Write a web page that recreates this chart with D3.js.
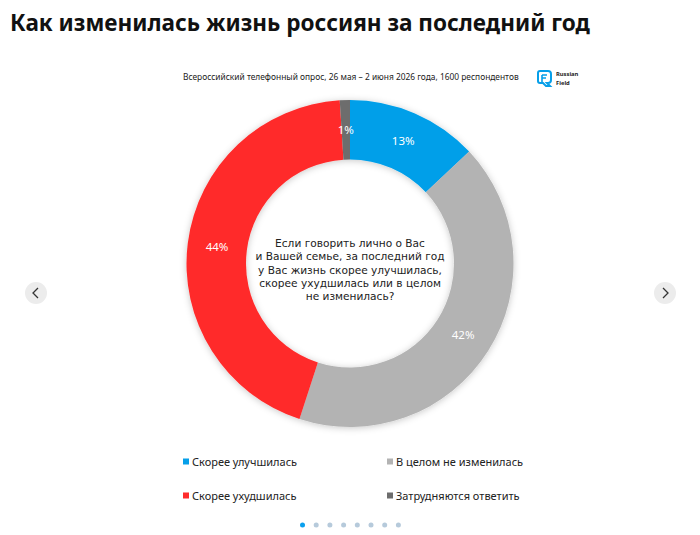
<!DOCTYPE html>
<html>
<head>
<meta charset="utf-8">
<script src="https://cdn.jsdelivr.net/npm/d3@7"></script>
<style>
  body { margin: 0; background: #fff; font-family: "Noto Sans", "Open Sans", sans-serif; }
  svg text { font-family: "Noto Sans", "Open Sans", sans-serif; }
  svg text.q { font-family: "DejaVu Sans", sans-serif; }
</style>
</head>
<body>
<div id="chart"></div>
<script>
// chart data
const title = "Как изменилась жизнь россиян за последний год";
const subtitle = "Всероссийский телефонный опрос, 26 мая – 2 июня 2026 года, 1600 респондентов";
const question = ["Если говорить лично о Вас", "и Вашей семье, за последний год", "у Вас жизнь скорее улучшилась,", "скорее ухудшилась или в целом", "не изменилась?"];
const categories = ["Скорее улучшилась", "В целом не изменилась", "Скорее ухудшилась", "Затрудняются ответить"];
const values = [13, 42, 44, 1];
const colors = ["#069fe9", "#b3b3b3", "#ff2b2b", "#6d6d6d"];
const pageCount = 8;

const width = 700, height = 535;
const cx = 350, cy = 263.5;
const outerR = 163.5, innerR = 104;

const svg = d3.select("#chart").append("svg")
	.attr("width", width)
	.attr("height", height);

// soft shadow under the ring
const defs = svg.append("defs");
const f = defs.append("filter").attr("id", "shadow")
	.attr("x", "-20%").attr("y", "-20%").attr("width", "140%").attr("height", "140%");
f.append("feDropShadow")
	.attr("dx", 0).attr("dy", 1)
	.attr("stdDeviation", 3.5)
	.attr("flood-color", "#000")
	.attr("flood-opacity", 0.22);

// fit a text to a given width by shrinking its font size
function fitText(sel, w) {
	const len = sel.node().getComputedTextLength();
	const fs = +sel.attr("font-size");
	if (len > w) sel.attr("font-size", fs * w / len);
}

// title
const t = svg.append("text")
	.attr("x", 10).attr("y", 31)
	.attr("font-size", 24).attr("font-weight", 700)
	.attr("fill", "#111")
	.text(title);
fitText(t, 580);

// subtitle
const st = svg.append("text")
	.attr("x", 183).attr("y", 80)
	.attr("font-size", 9.6)
	.attr("fill", "#222")
	.text(subtitle);
fitText(st, 336);

// logo
const logo = svg.append("g").attr("transform", "translate(537,70)");
logo.append("path")
	.attr("d", "M3,1 H11 Q14,1 14,4 V10 Q14,13 11,13 H10 L13,16 H9 L6,13 H3 Q1,13 1,11 V3 Q1,1 3,1 Z")
	.attr("fill", "none").attr("stroke", "#069fe9").attr("stroke-width", 2);
logo.append("path")
	.attr("d", "M5,5 H10 M5,8 H9 M5,5 V12")
	.attr("fill", "none").attr("stroke", "#069fe9").attr("stroke-width", 1.6);
logo.append("text").attr("x", 19).attr("y", 5.5)
	.attr("font-size", 5.8).attr("font-weight", 700).attr("fill", "#222").text("Russian");
logo.append("text").attr("x", 19).attr("y", 14.5)
	.attr("font-size", 5.8).attr("font-weight", 700).attr("fill", "#222").text("Field");

// donut
const pie = d3.pie().sort(null).value(d => d);
const arcs = pie(values);
const arc = d3.arc().innerRadius(innerR).outerRadius(outerR);
const labelArc = d3.arc().innerRadius(134).outerRadius(134);

const donut = svg.append("g").attr("transform", `translate(${cx},${cy})`);
donut.append("g").attr("filter", "url(#shadow)")
	.selectAll("path")
	.data(arcs)
	.join("path")
	.attr("d", arc)
	.attr("fill", (d, i) => colors[i]);

donut.selectAll(".lbl")
	.data(arcs)
	.join("text")
	.attr("class", "lbl")
	.attr("transform", d => `translate(${labelArc.centroid(d)})`)
	.attr("text-anchor", "middle")
	.attr("dy", "0.36em")
	.attr("font-size", 11.5)
	.attr("fill", "#fff")
	.text(d => d.data + "%");

// question in the hole
donut.selectAll(".q")
	.data(question)
	.join("text")
	.attr("class", "q")
	.attr("text-anchor", "middle")
	.attr("x", 0)
	.attr("y", (d, i) => -20.5 + i * 13.4)
	.attr("dy", "0.36em")
	.attr("font-size", 10.6)
	.attr("fill", "#222")
	.text(d => d);

// legend
const legend = svg.append("g");
const item = legend.selectAll("g")
	.data(categories)
	.join("g")
	.attr("transform", (d, i) => `translate(${183 + (i % 2) * 204},${462 + Math.floor(i / 2) * 34})`);
item.append("rect")
	.attr("x", 0).attr("y", -3.5)
	.attr("width", 6).attr("height", 6)
	.attr("fill", (d, i) => colors[i]);
item.append("text")
	.attr("x", 9).attr("dy", "0.35em")
	.attr("font-size", 11)
	.attr("fill", "#222")
	.text(d => d);

// nav buttons
const navs = [{x: 36, dir: -1}, {x: 665, dir: 1}];
const nav = svg.selectAll(".nav")
	.data(navs)
	.join("g")
	.attr("class", "nav")
	.attr("transform", d => `translate(${d.x},293)`);
nav.append("circle").attr("r", 11).attr("fill", "#ececec");
nav.append("path")
	.attr("d", d => d.dir < 0 ? "M2,-5 L-3,0 L2,5" : "M-2,-5 L3,0 L-2,5")
	.attr("fill", "none").attr("stroke", "#333").attr("stroke-width", 1.3);

// page dots
svg.selectAll(".dot")
	.data(d3.range(pageCount))
	.join("circle")
	.attr("class", "dot")
	.attr("cx", d => 302.5 + d * 13.7)
	.attr("cy", 525)
	.attr("r", 2.5)
	.attr("fill", d => d === 0 ? "#0aa0ee" : "#b6cadb");
</script>
</body>
</html>
